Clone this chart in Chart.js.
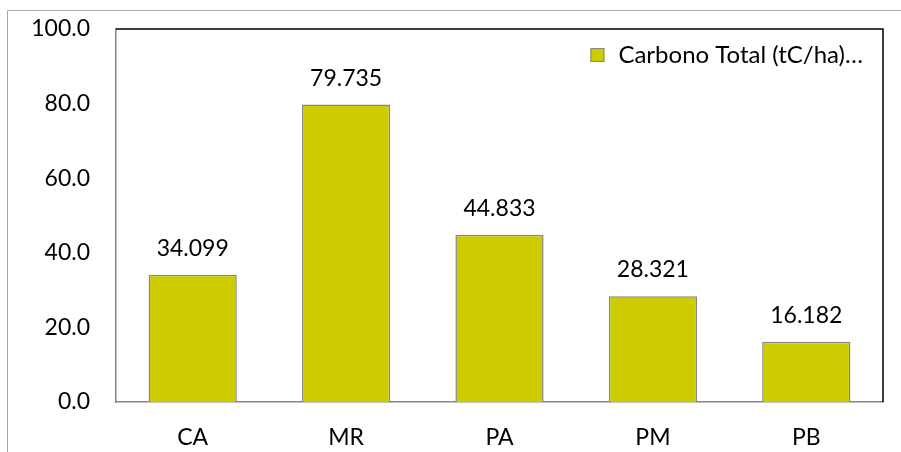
<!DOCTYPE html>
<html>
<head>
<meta charset="utf-8">
<script src="https://cdn.jsdelivr.net/npm/chart.js@4.4.1/dist/chart.umd.min.js"></script>
<style>
  html, body { margin: 0; padding: 0; background: #fff; }
  #wrap { width: 901px; height: 452px; position: relative; }
</style>
</head>
<body>
<div id="wrap"><canvas id="carbonChart"></canvas></div>
<script>
// Carbono total por tipo de cobertura
const categories = ['CA', 'MR', 'PA', 'PM', 'PB'];
const carbonValues = [34.099, 79.735, 44.833, 28.321, 16.182];
const seriesLabel = 'Carbono Total (tC/ha)…';
const yTicks = [0, 20, 40, 60, 80, 100];

const FONT = 'Lato, "Open Sans", sans-serif';
const FONT_SIZE = 23;
const BAR_FILL = '#cccc00';
const BAR_EDGE = '#868686';

// outer frame + black top/right edges of the plot area
const framePlugin = {
  id: 'frame',
  beforeDraw(chart) {
    const ctx = chart.ctx;
    ctx.save();
    ctx.fillStyle = '#fff';
    ctx.fillRect(0, 0, chart.width, chart.height);
    ctx.strokeStyle = '#a6a6a6';
    ctx.lineWidth = 1;
    ctx.beginPath();
    ctx.moveTo(7.5, chart.height);
    ctx.lineTo(7.5, 10.5);
    ctx.lineTo(chart.width, 10.5);
    ctx.stroke();
    ctx.restore();
  },
  afterDatasetsDraw(chart) {
    const a = chart.chartArea;
    const ctx = chart.ctx;
    ctx.save();
    ctx.strokeStyle = '#000';
    ctx.lineWidth = 1.5;
    ctx.beginPath();
    ctx.moveTo(a.left, a.top);
    ctx.lineTo(a.right, a.top);
    ctx.lineTo(a.right, a.bottom);
    ctx.stroke();
    ctx.restore();
  }
};

// value printed above each bar
const valueLabels = {
  id: 'valueLabels',
  afterDatasetsDraw(chart) {
    const ctx = chart.ctx;
    const meta = chart.getDatasetMeta(0);
    ctx.save();
    ctx.font = FONT_SIZE + 'px ' + FONT;
    ctx.fillStyle = '#000';
    ctx.textAlign = 'center';
    ctx.textBaseline = 'alphabetic';
    meta.data.forEach((bar, i) => {
      ctx.fillText(carbonValues[i].toFixed(3), bar.x, bar.y - 19);
    });
    ctx.restore();
  }
};

// legend entry sitting inside the top-right of the plot
const insideLegend = {
  id: 'insideLegend',
  afterDraw(chart) {
    const a = chart.chartArea;
    const ds = chart.data.datasets[0];
    const ctx = chart.ctx;
    ctx.save();
    ctx.font = '24px ' + FONT;
    const textW = ctx.measureText(ds.label).width;
    const textX = a.right - 20 - textW;
    const midY = a.top + 26;
    ctx.fillStyle = ds.backgroundColor;
    ctx.fillRect(textX - 28, midY - 7, 14, 14);
    ctx.strokeStyle = ds.borderColor;
    ctx.lineWidth = 1;
    ctx.strokeRect(textX - 27.5, midY - 6.5, 13, 13);
    ctx.fillStyle = '#000';
    ctx.textAlign = 'left';
    ctx.textBaseline = 'middle';
    ctx.fillText(ds.label, textX, midY);
    ctx.restore();
  }
};

new Chart(document.getElementById('carbonChart'), {
  type: 'bar',
  data: {
    labels: categories,
    datasets: [{
      label: seriesLabel,
      data: carbonValues,
      backgroundColor: BAR_FILL,
      borderColor: BAR_EDGE,
      borderWidth: 1.5,
      barPercentage: 0.575,
      categoryPercentage: 1
    }]
  },
  options: {
    responsive: true,
    maintainAspectRatio: false,
    animation: false,
    layout: { padding: { top: 29, right: 18, left: 0, bottom: 0 } },
    scales: {
      x: {
        grid: { display: false, drawTicks: false },
        border: { color: '#868686', width: 1.5 },
        ticks: { color: '#000', font: { family: FONT, size: FONT_SIZE }, padding: 22 },
        afterFit(scale) {
          scale.height = 50;
          scale.paddingLeft = 0;
          scale.paddingRight = 0;
        }
      },
      y: {
        min: 0,
        max: 100,
        afterBuildTicks(scale) { scale.ticks = yTicks.map(v => ({ value: v })); },
        grid: { display: false, drawTicks: false },
        border: { color: '#868686', width: 1.5 },
        ticks: {
          color: '#000',
          font: { family: FONT, size: FONT_SIZE },
          padding: 26,
          callback: v => Number(v).toFixed(1)
        },
        afterFit(scale) {
          scale.width = 116;
          scale.paddingTop = 0;
          scale.paddingBottom = 0;
        }
      }
    },
    plugins: {
      legend: { display: false },
      tooltip: { enabled: false }
    }
  },
  plugins: [framePlugin, valueLabels, insideLegend]
});
</script>
</body>
</html>
